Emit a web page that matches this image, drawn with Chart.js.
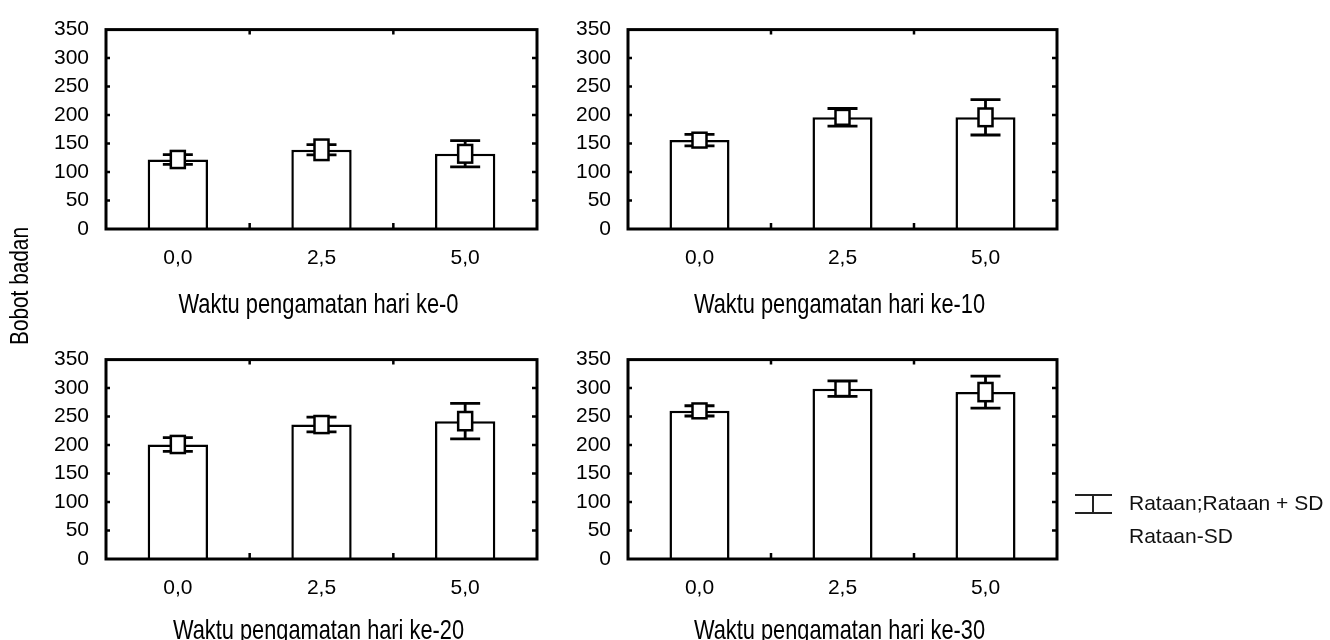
<!DOCTYPE html>
<html><head><meta charset="utf-8">
<script src="https://cdn.jsdelivr.net/npm/chart.js@4.4.1/dist/chart.umd.min.js"></script>
<style>
html,body{margin:0;padding:0;background:#fff;width:1330px;height:640px;overflow:hidden;position:relative}
canvas{position:absolute}
</style></head><body>
<canvas id="c0"></canvas><canvas id="c1"></canvas><canvas id="c2"></canvas><canvas id="c3"></canvas>
<script>
// ---- data ----
const categories = ['0,0', '2,5', '5,0'];
const panelTitles = ['Waktu pengamatan hari ke-0', 'Waktu pengamatan hari ke-10', 'Waktu pengamatan hari ke-20', 'Waktu pengamatan hari ke-30'];
const yAxisTitle = 'Bobot badan';
const yMin = 0, yMax = 350, yStep = 50;
const legendLines = ['Rataan;Rataan + SD', 'Rataan-SD'];

const meanDay0 = [122, 139, 132];
const sdDay0 = [8.5, 9, 23];
const boxDay0 = [15, 18, 15.5];

const meanDay10 = [156, 196, 196];
const sdDay10 = [10, 15.5, 31];
const boxDay10 = [13, 13, 15.5];

const meanDay20 = [201, 236, 242];
const sdDay20 = [12, 13, 31];
const boxDay20 = [15, 15, 16];

const meanDay30 = [260, 299, 293];
const sdDay30 = [9, 13.5, 28];
const boxDay30 = [13, 13, 16];

// ---- fonts ----
const FAMILY = 'Liberation Sans';
const tickFont = {family: FAMILY, size: 21};
const titleSize = 28;
const mctx = document.createElement('canvas').getContext('2d');
function widthOf(text, size) {
  mctx.font = size + 'px "' + FAMILY + '"';
  return mctx.measureText(text).width;
}
// condensed (narrow) title text, like the reference
function drawCondensed(ctx, text, x, y, size, targetW, rot) {
  const sx = targetW / widthOf(text, size);
  ctx.save();
  ctx.translate(x, y);
  if (rot) ctx.rotate(rot);
  ctx.scale(sx, 1);
  ctx.font = size + 'px "' + FAMILY + '"';
  ctx.fillStyle = '#000';
  ctx.textAlign = 'center';
  ctx.textBaseline = 'alphabetic';
  ctx.fillText(text, 0, 0);
  ctx.restore();
}

// ---- plugins ----
const decor = {
  id: 'decor',
  afterDatasetsDraw(chart, args, o) {
    const ctx = chart.ctx, xs = chart.scales.x, ys = chart.scales.y, a = chart.chartArea;
    const meta = chart.getDatasetMeta(0);
    ctx.save();
    ctx.strokeStyle = '#000';
    // error bars and mean boxes
    o.mean.forEach((m, i) => {
      const x = meta.data[i].x;
      const yHi = ys.getPixelForValue(m + o.sd[i]);
      const yLo = ys.getPixelForValue(m - o.sd[i]);
      ctx.lineWidth = 2.8;
      ctx.beginPath();
      ctx.moveTo(x, yHi); ctx.lineTo(x, yLo);
      ctx.moveTo(x - 15, yHi); ctx.lineTo(x + 15, yHi);
      ctx.moveTo(x - 15, yLo); ctx.lineTo(x + 15, yLo);
      ctx.stroke();
      const bTop = ys.getPixelForValue(m + o.box[i]);
      const bBot = ys.getPixelForValue(m - o.box[i]);
      ctx.lineWidth = 2.5;
      ctx.fillStyle = '#fff';
      ctx.fillRect(x - 7, bTop, 14, bBot - bTop);
      ctx.strokeRect(x - 7, bTop, 14, bBot - bTop);
    });
    // frame
    ctx.lineWidth = 3;
    ctx.strokeRect(a.left, a.top, a.right - a.left, a.bottom - a.top);
    // inner y ticks on both sides
    ctx.lineWidth = 2.5;
    for (let v = yMin + yStep; v < yMax; v += yStep) {
      const y = ys.getPixelForValue(v);
      ctx.beginPath();
      ctx.moveTo(a.left, y); ctx.lineTo(a.left + 4, y);
      ctx.moveTo(a.right, y); ctx.lineTo(a.right - 5, y);
      ctx.stroke();
    }
    // inner x ticks at category boundaries
    for (let i = 0; i < categories.length - 1; i++) {
      const x = (xs.getPixelForValue(i) + xs.getPixelForValue(i + 1)) / 2;
      ctx.beginPath();
      ctx.moveTo(x, a.bottom); ctx.lineTo(x, a.bottom - 6);
      ctx.moveTo(x, a.top); ctx.lineTo(x, a.top + 5);
      ctx.stroke();
    }
    ctx.restore();
    // x axis title (condensed)
    drawCondensed(ctx, o.title, (a.left + a.right) / 2 - 3, o.titleBaseline, titleSize, o.titleW, 0);
    // y axis title (one for all panels)
    if (o.yTitle) drawCondensed(ctx, yAxisTitle, o.yTitle.x, o.yTitle.y, 25, 118, -Math.PI / 2);
    // legend
    if (o.legend) {
      const L = o.legend;
      ctx.save();
      ctx.strokeStyle = '#222';
      ctx.lineWidth = 2;
      ctx.beginPath();
      ctx.moveTo(L.x, L.y); ctx.lineTo(L.x + 37, L.y);
      ctx.moveTo(L.x, L.y + 18); ctx.lineTo(L.x + 37, L.y + 18);
      ctx.moveTo(L.x + 18, L.y); ctx.lineTo(L.x + 18, L.y + 18);
      ctx.stroke();
      ctx.fillStyle = '#111';
      ctx.font = '21px "' + FAMILY + '"';
      ctx.textAlign = 'left';
      ctx.textBaseline = 'middle';
      legendLines.forEach((t, k) => ctx.fillText(t, L.x + 54, L.y + 9 + k * 33));
      ctx.restore();
    }
  }
};

// ---- panels ----
const panels = [
  {id: 'c0', left: 0, top: 0, width: 560, H: 360, areaL: 106, areaR: 537, mean: meanDay0, sd: sdDay0, box: boxDay0, title: panelTitles[0], titleBaseline: 313, titleW: 280, yTitle: {x: 28, y: 286}},
  {id: 'c1', left: 560, top: 0, width: 520, H: 330, areaL: 628, areaR: 1057, mean: meanDay10, sd: sdDay10, box: boxDay10, title: panelTitles[1], titleBaseline: 313, titleW: 291},
  {id: 'c2', left: 0, top: 330, width: 560, H: 330, areaL: 106, areaR: 537, mean: meanDay20, sd: sdDay20, box: boxDay20, title: panelTitles[2], titleBaseline: 309, titleW: 291},
  {id: 'c3', left: 560, top: 330, width: 770, H: 330, areaL: 628, areaR: 1057, mean: meanDay30, sd: sdDay30, box: boxDay30, title: panelTitles[3], titleBaseline: 309, titleW: 291, legend: {x: 1075 - 560, y: 495 - 330}}
];
panels.forEach(p => {
  const cv = document.getElementById(p.id);
  cv.width = p.width; cv.height = p.H;
  cv.style.left = p.left + 'px'; cv.style.top = p.top + 'px';
  cv.style.width = p.width + 'px'; cv.style.height = p.H + 'px';
  new Chart(cv, {
    type: 'bar',
    data: {labels: categories, datasets: [{data: p.mean, backgroundColor: '#fff', borderColor: '#000', borderWidth: 2.5, barPercentage: 0.42, categoryPercentage: 1}]},
    options: {
      responsive: false, animation: false, devicePixelRatio: 1,
      layout: {padding: {left: 0, right: p.left + p.width - p.areaR, top: 22, bottom: 0}},
      plugins: {legend: {display: false}, tooltip: {enabled: false}, title: {display: false},
        decor: {mean: p.mean, sd: p.sd, box: p.box, yTitle: p.yTitle, legend: p.legend,
                title: p.title, titleBaseline: p.titleBaseline, titleW: p.titleW}},
      scales: {
        x: {
          grid: {display: false, drawTicks: false}, border: {display: false},
          ticks: {color: '#000', font: tickFont, padding: 17, maxRotation: 0},
          afterFit(s) { s.height = p.H - 229; }
        },
        y: {
          min: yMin, max: yMax,
          grid: {display: false, drawTicks: false}, border: {display: false},
          ticks: {stepSize: yStep, color: '#000', font: tickFont, padding: 17},
          afterFit(s) { s.width = p.areaL - p.left; }
        }
      }
    },
    plugins: [decor]
  });
});
</script>
</body></html>
